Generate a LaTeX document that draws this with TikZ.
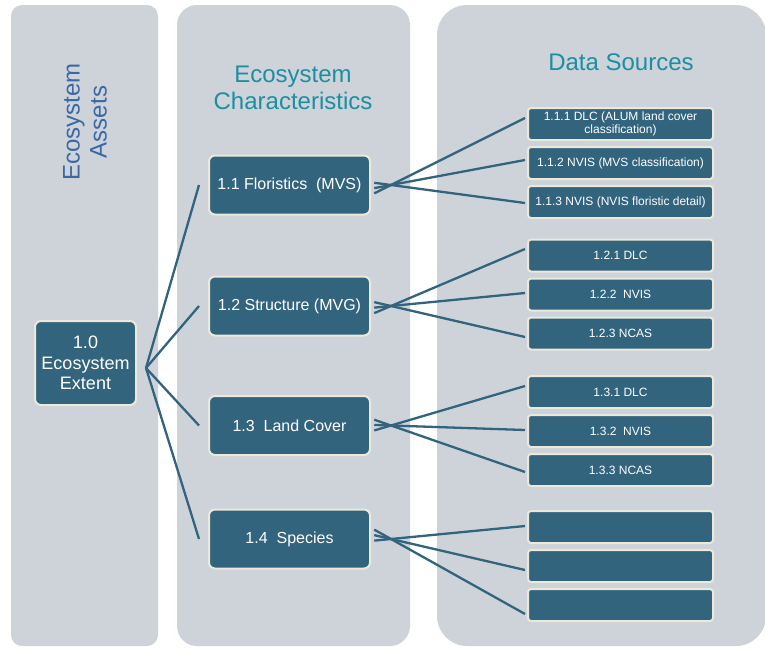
\documentclass[tikz,border=0pt]{standalone}
\usepackage{fontspec}
\setmainfont{Liberation Sans}
\usetikzlibrary{calc}
\definecolor{panel}{HTML}{CED3DA}
\definecolor{boxfill}{HTML}{33647E}
\definecolor{boxedge}{HTML}{EAE9DA}
\definecolor{titleteal}{HTML}{1B8FA2}
\definecolor{titleblue}{HTML}{3A68A4}
\begin{document}
\begin{tikzpicture}[x=1pt,y=-1pt,
  panelbg/.style={fill=panel, draw=none},
  title/.style={text=titleteal, align=center, inner sep=0pt, font=\fontsize{24}{27}\selectfont},
  mainbox/.style={draw=boxedge, line width=2pt, fill=boxfill, rounded corners=6pt,
    text=white, align=center, minimum width=161pt, minimum height=59pt, inner sep=0pt,
    font=\fontsize{16}{19}\selectfont},
  srcbox/.style={draw=boxedge, line width=2pt, fill=boxfill, rounded corners=3pt,
    text=white, align=center, minimum width=185pt, minimum height=32pt, inner sep=0pt,
    font=\fontsize{12}{12.5}\selectfont},
  link/.style={draw=boxfill, line width=2.3pt},
]
\useasboundingbox (0,0) rectangle (765,648);
\fill[white] (0,0) rectangle (765,648);

% column panels
\fill[panelbg, rounded corners=11pt] (11,5) rectangle (158,646);
\fill[panelbg, rounded corners=20pt] (177,5) rectangle (410,646);
\fill[panelbg, rounded corners=30pt] (437,5) rectangle (766,646);

% column titles
\node[title, text=titleblue, rotate=90] (tA) at (85,122) {Ecosystem\\Assets};
\node[title] (tC) at (293,88) {Ecosystem\\Characteristics};
\node[title] (tD) at (621,62) {Data Sources};

% asset
\node[mainbox, minimum width=101pt, minimum height=84pt,
      font=\fontsize{18}{20.5}\selectfont] (e10) at (85.5,363) {1.0\\Ecosystem\\Extent};

% characteristics
\node[mainbox] (c11) at (289.5,185)   {1.1 Floristics~~(MVS)};
\node[mainbox] (c12) at (289.5,306)   {1.2 Structure (MVG)};
\node[mainbox] (c13) at (289.5,425.5) {1.3~~Land Cover};
\node[mainbox] (c14) at (289.5,539)   {1.4~~Species};

% data sources
\node[srcbox] (d111) at (620.5,124)   {1.1.1 DLC (ALUM land cover\\classification)};
\node[srcbox] (d112) at (620.5,163)   {1.1.2 NVIS (MVS classification)};
\node[srcbox] (d113) at (620.5,202)   {1.1.3 NVIS (NVIS floristic detail)};
\node[srcbox] (d121) at (620.5,255.5) {1.2.1 DLC};
\node[srcbox] (d122) at (620.5,294.5) {1.2.2~~NVIS};
\node[srcbox] (d123) at (620.5,333.5) {1.2.3 NCAS};
\node[srcbox] (d131) at (620.5,392)   {1.3.1 DLC};
\node[srcbox] (d132) at (620.5,431)   {1.3.2~~NVIS};
\node[srcbox] (d133) at (620.5,470)   {1.3.3 NCAS};
\node[srcbox] (d141) at (620.5,527)   {};
\node[srcbox] (d142) at (620.5,566)   {};
\node[srcbox] (d143) at (620.5,605)   {};

% asset to characteristics
\coordinate (hub) at ($(e10.east)+(9,5)$);
\foreach \c in {c11,c12,c13,c14}
  \draw[link] (hub) -- ($(\c.west)+(-9,0)$);

% characteristics to data sources (lines cross just right of each box)
\foreach \c in {c11,c12,c13,c14}
  \coordinate (h\c) at ($(\c.east)+(20,0)$);
\foreach \h/\d/\o in {hc11/d111/-6, hc11/d112/-3, hc11/d113/1,
                      hc12/d121/-6.5, hc12/d122/-1.5, hc12/d123/3.5,
                      hc13/d131/-6, hc13/d132/-1, hc13/d133/2,
                      hc14/d141/-1, hc14/d142/4, hc14/d143/9} {
  \coordinate (end-\d) at ($(\d.west)+(-2,\o)$);
  \draw[link] ($(\h)!-0.125!(end-\d)$) -- (end-\d);
}
\end{tikzpicture}
\end{document}
